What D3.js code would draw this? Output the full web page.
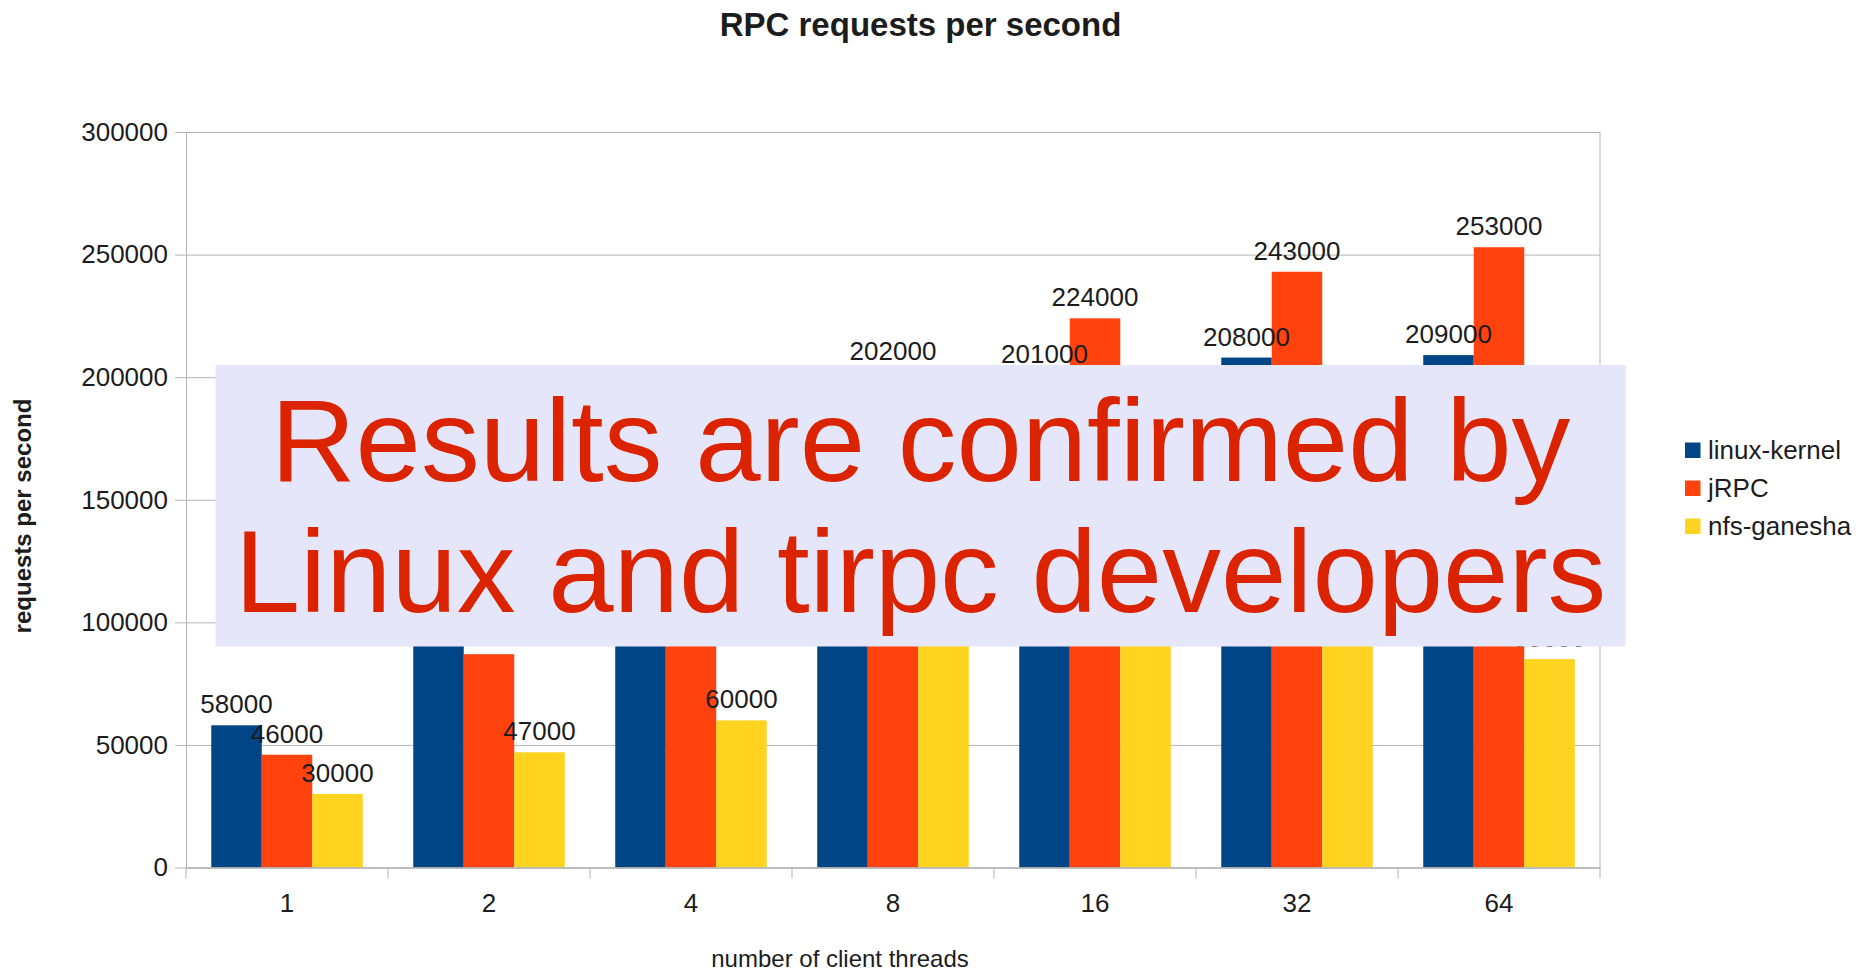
<!DOCTYPE html>
<html>
<head>
<meta charset="utf-8">
<script src="https://cdnjs.cloudflare.com/ajax/libs/d3/7.8.5/d3.min.js"></script>
<style>
body { margin: 0; background: #fff; }
text { font-family: "Liberation Sans", Arial, sans-serif; fill: #1c1c1c; }
</style>
</head>
<body>
<div id="chart"></div>
<script>

// DATA (values under the note box are estimates)
var threads = ["1", "2", "4", "8", "16", "32", "64"];
var seriesNames = ["linux-kernel", "jRPC", "nfs-ganesha"];
var linuxKernel = [58000, 110000, 160000, 185000, 201000, 208000, 209000];
var jrpc = [46000, 87000, 145000, 202000, 224000, 243000, 253000];
var nfsGanesha = [30000, 47000, 60000, 93000, 97000, 94000, 85000];
var yTicks = [0, 50000, 100000, 150000, 200000, 250000, 300000];
var noteLines = ["Results are confirmed by", "Linux and tirpc developers"];

var colors = ["#004586", "#ff420e", "#ffd320"];
var seriesValues = [linuxKernel, jrpc, nfsGanesha];

// DIMENSIONS
var svgWidth = 1866;
var svgHeight = 971;
var margin = {top: 132, right: 266, bottom: 103.5, left: 186};
var width = svgWidth - margin.left - margin.right;
var height = svgHeight - margin.top - margin.bottom;

var svg = d3.select("#chart")
    .append("svg")
    .attr("width", svgWidth)
    .attr("height", svgHeight);

var chartGroup = svg.append("g")
    .attr("transform", `translate(${margin.left}, ${margin.top})`);

// SCALES
var x0 = d3.scaleBand()
    .domain(threads)
    .range([0, width]);

var x1 = d3.scaleBand()
    .domain(seriesNames)
    .range([0, x0.bandwidth()])
    .paddingInner(0)
    .paddingOuter(0.5);

var y = d3.scaleLinear()
    .domain([0, 300000])
    .range([height, 0]);

// GRIDLINES
chartGroup.append("g")
    .attr("class", "grid")
    .call(d3.axisLeft(y).tickValues(yTicks).tickSize(-width).tickFormat(""))
    .call(g => g.select(".domain").remove())
    .selectAll("line")
    .attr("stroke", "#b3b3b3");

// RIGHT BORDER OF PLOT AREA
chartGroup.append("line")
    .attr("x1", width).attr("x2", width)
    .attr("y1", 0).attr("y2", height)
    .attr("stroke", "#b3b3b3");

// Y AXIS
var yAxis = chartGroup.append("g")
    .call(d3.axisLeft(y).tickValues(yTicks).tickFormat(d3.format("d"))
        .tickSize(11).tickSizeOuter(0).tickPadding(7));
yAxis.select(".domain").attr("stroke", "#b3b3b3");
yAxis.selectAll("line").attr("stroke", "#b3b3b3");
yAxis.selectAll("text")
    .attr("font-size", "26px")
    .attr("font-family", "Liberation Sans, Arial, sans-serif")
    .attr("fill", "#1c1c1c");

// BARS
var groups = chartGroup.selectAll(".group")
    .data(threads)
    .enter()
    .append("g")
    .attr("class", "group")
    .attr("transform", d => `translate(${x0(d)}, 0)`);

groups.selectAll("rect")
    .data((d, i) => seriesNames.map((s, j) => ({series: s, value: seriesValues[j][i], color: colors[j]})))
    .enter()
    .append("rect")
    .attr("x", d => x1(d.series))
    .attr("y", d => y(d.value))
    .attr("width", x1.bandwidth())
    .attr("height", d => height - y(d.value))
    .attr("fill", d => d.color);

// X AXIS
var xAxis = chartGroup.append("g")
    .attr("transform", `translate(0, ${height})`)
    .call(d3.axisBottom(x0).tickSize(0).tickSizeOuter(0));
xAxis.select(".domain").attr("stroke", "#b3b3b3").attr("stroke-width", 1.5);
xAxis.selectAll("text")
    .attr("y", 44)
    .attr("dy", 0)
    .attr("font-size", "26px")
    .attr("font-family", "Liberation Sans, Arial, sans-serif")
    .attr("fill", "#1c1c1c");

// X TICKS AT GROUP BOUNDARIES
chartGroup.selectAll(".bound")
    .data(threads.concat(["end"]))
    .enter()
    .append("line")
    .attr("class", "bound")
    .attr("x1", (d, i) => i * x0.step())
    .attr("x2", (d, i) => i * x0.step())
    .attr("y1", height)
    .attr("y2", height + 11)
    .attr("stroke", "#b3b3b3");

// DATA LABELS
groups.selectAll(".val")
    .data((d, i) => seriesNames.map((s, j) => ({series: s, value: seriesValues[j][i]})))
    .enter()
    .append("text")
    .attr("class", "val")
    .attr("x", d => x1(d.series) + x1.bandwidth() / 2)
    .attr("y", d => y(d.value) - 12)
    .attr("text-anchor", "middle")
    .attr("font-size", "26px")
    .text(d => d.value);

// AXIS LABELS
svg.append("text")
    .attr("x", 920.5)
    .attr("y", 36)
    .attr("text-anchor", "middle")
    .attr("font-size", "33px")
    .attr("font-weight", "bold")
    .text("RPC requests per second");

svg.append("text")
    .attr("transform", "translate(31, 516) rotate(-90)")
    .attr("text-anchor", "middle")
    .attr("font-size", "24px")
    .attr("font-weight", "bold")
    .text("requests per second");

svg.append("text")
    .attr("x", 840)
    .attr("y", 967)
    .attr("text-anchor", "middle")
    .attr("font-size", "24px")
    .text("number of client threads");

// LEGEND
var legend = svg.append("g")
    .attr("transform", "translate(1685, 450)");

var legendRows = legend.selectAll(".row")
    .data(seriesNames)
    .enter()
    .append("g")
    .attr("class", "row")
    .attr("transform", (d, i) => `translate(0, ${i * 38})`);

legendRows.append("rect")
    .attr("x", 0)
    .attr("y", -7.5)
    .attr("width", 15.5)
    .attr("height", 15.5)
    .attr("fill", (d, i) => colors[i]);

legendRows.append("text")
    .attr("x", 23)
    .attr("y", 9)
    .attr("font-size", "26px")
    .text(d => d);

// NOTE BOX OVER THE CHART
svg.append("rect")
    .attr("x", 215.5)
    .attr("y", 365)
    .attr("width", 1410)
    .attr("height", 281.5)
    .attr("fill", "#e6e6fa");

svg.selectAll(".note")
    .data(noteLines)
    .enter()
    .append("text")
    .attr("class", "note")
    .attr("x", 920.5)
    .attr("y", (d, i) => 481 + i * 131)
    .attr("text-anchor", "middle")
    .attr("font-size", "117.5px")
    .style("fill", "#dc2300")
    .text(d => d);

</script>
</body>
</html>
